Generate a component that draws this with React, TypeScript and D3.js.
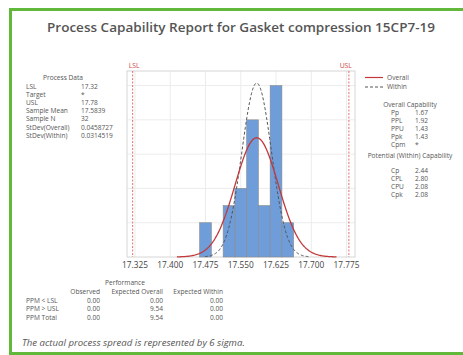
import { useEffect, useRef } from "react";
import * as d3 from "d3";

// histogram bins (left edge) and counts
const binStarts = [17.4625, 17.5125, 17.5375, 17.5625, 17.5875, 17.6125, 17.6375];
const binCounts = [2, 3, 4, 8, 3, 10, 2];
const binWidth = 0.025;

const xTicks = [17.325, 17.4, 17.475, 17.55, 17.625, 17.7, 17.775];
const yGrid = [2, 4, 6, 8, 10];

const LSL = 17.32;
const USL = 17.78;
const mean = 17.5839;
const sdOverall = 0.0458727;
const sdWithin = 0.0314519;
const nSample = 32;

const processLabels = ["LSL", "Target", "USL", "Sample Mean", "Sample N", "StDev(Overall)", "StDev(Within)"];
const processValues = ["17.32", "*", "17.78", "17.5839", "32", "0.0458727", "0.0314519"];

const overallLabels = ["Pp", "PPL", "PPU", "Ppk", "Cpm"];
const overallValues = ["1.67", "1.92", "1.43", "1.43", "*"];
const withinLabels = ["Cp", "CPL", "CPU", "Cpk"];
const withinValues = ["2.44", "2.80", "2.08", "2.08"];

const perfRows = ["PPM < LSL", "PPM > USL", "PPM Total"];
const perfHeaders = ["Observed", "Expected Overall", "Expected Within"];
const perfObserved = ["0.00", "0.00", "0.00"];
const perfExpOverall = ["0.00", "9.54", "9.54"];
const perfExpWithin = ["0.00", "0.00", "0.00"];

const FONT = "'Open Sans', 'Noto Sans', sans-serif";
const TXT = "#555";

export default function App() {
  const ref = useRef<SVGSVGElement>(null);

  useEffect(() => {
    if (!ref.current) return;
    const svg = d3.select(ref.current);
    svg.selectAll("*").remove();

    // outer green frame
    svg.append("rect")
      .attr("x", 10.5).attr("y", 9.5).attr("width", 470).attr("height", 344)
      .attr("fill", "white").attr("stroke", "#62b83a").attr("stroke-width", 3);

    svg.append("text")
      .attr("x", 241).attr("y", 32).attr("text-anchor", "middle")
      .attr("font-family", FONT).attr("font-size", 13.2).attr("font-weight", 600).attr("fill", "#555")
      .attr("textLength", 388).attr("lengthAdjust", "spacingAndGlyphs")
      .text("Process Capability Report for Gasket compression  15CP7-19");

    // plot frame
    const L = 127, R = 355, T = 71, B = 257;
    const x = d3.scaleLinear().domain([17.308, 17.793]).range([L, R]);
    const y = d3.scaleLinear().domain([0, 10.85]).range([B, T]);

    const g = svg.append("g");
    g.selectAll(".vg").data(xTicks).enter().append("line")
      .attr("x1", d => x(d)).attr("x2", d => x(d)).attr("y1", T).attr("y2", B)
      .attr("stroke", "#ececec").attr("stroke-width", 1);
    g.selectAll(".hg").data(yGrid).enter().append("line")
      .attr("x1", L).attr("x2", R).attr("y1", d => y(d)).attr("y2", d => y(d))
      .attr("stroke", "#ececec").attr("stroke-width", 1);
    g.append("rect").attr("x", L).attr("y", T).attr("width", R - L).attr("height", B - T)
      .attr("fill", "none").attr("stroke", "#d6d6d6");

    // bars
    g.selectAll(".bar").data(binStarts).enter().append("rect")
      .attr("x", d => x(d)).attr("width", x(binWidth) - x(0))
      .attr("y", (_, i) => y(binCounts[i])).attr("height", (_, i) => B - y(binCounts[i]))
      .attr("fill", "#6e9dd9").attr("stroke", "#8a8a8a").attr("stroke-width", 0.6);

    // spec limits
    [{ v: LSL, t: "LSL", a: "start", dx: -4 }, { v: USL, t: "USL", a: "end", dx: 3 }].forEach(s => {
      g.append("line").attr("x1", x(s.v)).attr("x2", x(s.v)).attr("y1", T).attr("y2", B)
        .attr("stroke", "#e06060").attr("stroke-width", 0.9).attr("stroke-dasharray", "2,1.5");
      g.append("text").attr("x", x(s.v) + s.dx).attr("y", T - 3).attr("text-anchor", s.a)
        .attr("font-family", FONT).attr("font-size", 6.8).attr("fill", "#d04848").text(s.t);
    });

    // fitted curves
    const pdf = (v: number, s: number) => Math.exp(-0.5 * ((v - mean) / s) ** 2) / (s * Math.sqrt(2 * Math.PI));
    const curve = (s: number, k: number) => {
      const lo = mean - k * s, hi = mean + k * s;
      return d3.range(0, 201).map(i => lo + (hi - lo) * i / 200);
    };
    const line = (s: number) => d3.line<number>().x(v => x(v)).y(v => y(nSample * binWidth * pdf(v, s)));
    g.append("path").datum(curve(sdWithin, 3.5)).attr("d", line(sdWithin))
      .attr("fill", "none").attr("stroke", "#555").attr("stroke-width", 1).attr("stroke-dasharray", "3,2");
    g.append("path").datum(curve(sdOverall, 3.7)).attr("d", line(sdOverall))
      .attr("fill", "none").attr("stroke", "#c0393b").attr("stroke-width", 1.3);

    // x tick labels
    g.selectAll(".xt").data(xTicks).enter().append("text")
      .attr("x", d => x(d)).attr("y", B + 11).attr("text-anchor", "middle")
      .attr("font-family", FONT).attr("font-size", 8.3).attr("fill", "#444")
      .text(d => d.toFixed(3));

    const small = (sel: d3.Selection<SVGGElement, unknown, null, undefined>, tx: number, ty: number, t: string, anchor = "start", size = 6.6) =>
      sel.append("text").attr("x", tx).attr("y", ty).attr("text-anchor", anchor)
        .attr("font-family", FONT).attr("font-size", size).attr("fill", TXT).text(t);

    // process data
    const pd = svg.append("g");
    small(pd, 63, 80, "Process Data", "middle");
    processLabels.forEach((t, i) => {
      small(pd, 26, 88.5 + i * 8.2, t);
      small(pd, 81, 88.5 + i * 8.2, processValues[i]);
    });

    // legend
    const lg = svg.append("g");
    lg.append("line").attr("x1", 365).attr("x2", 383).attr("y1", 77.5).attr("y2", 77.5)
      .attr("stroke", "#c0393b").attr("stroke-width", 1.2);
    lg.append("line").attr("x1", 365).attr("x2", 383).attr("y1", 87).attr("y2", 87)
      .attr("stroke", "#555").attr("stroke-width", 1).attr("stroke-dasharray", "3,2");
    small(lg, 387, 79.8, "Overall");
    small(lg, 387, 89.3, "Within");

    // capability stats
    small(lg, 410, 107, "Overall Capability", "middle");
    overallLabels.forEach((t, i) => {
      small(lg, 391, 115 + i * 8, t);
      small(lg, 415, 115 + i * 8, overallValues[i]);
    });
    small(lg, 410, 158, "Potential (Within) Capability", "middle");
    withinLabels.forEach((t, i) => {
      small(lg, 391, 172.5 + i * 8, t);
      small(lg, 415, 172.5 + i * 8, withinValues[i]);
    });

    // performance table
    const pf = svg.append("g");
    small(pf, 125, 285, "Performance", "middle");
    const colR = [100, 163, 223];
    perfHeaders.forEach((h, j) => small(pf, colR[j], 293.5, h, "end"));
    perfRows.forEach((r, i) => {
      const yy = 302.5 + i * 8.5;
      small(pf, 26, yy, r);
      small(pf, colR[0], yy, perfObserved[i], "end");
      small(pf, colR[1], yy, perfExpOverall[i], "end");
      small(pf, colR[2], yy, perfExpWithin[i], "end");
    });

    svg.append("text").attr("x", 22).attr("y", 346)
      .attr("font-family", FONT).attr("font-size", 9.6).attr("font-style", "italic").attr("fill", "#555")
      .text("The actual process spread is represented by 6 sigma.");
  }, []);

  return <svg ref={ref} width={463} height={355} style={{ position: "absolute", left: 0, top: 0 }} />;
}
